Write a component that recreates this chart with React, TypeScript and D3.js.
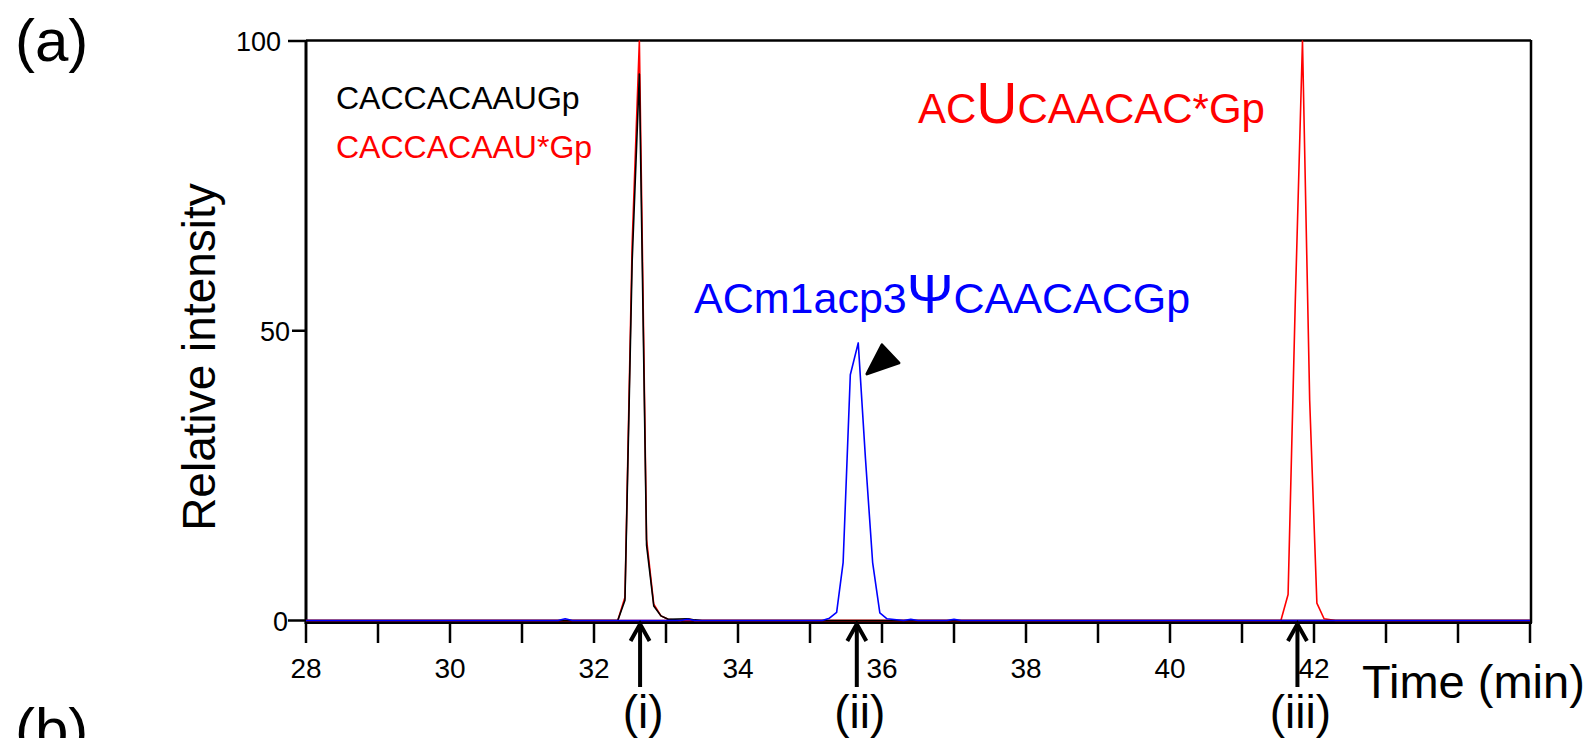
import * as d3 from 'd3';
import React, { useRef, useEffect } from 'react';

// retention time (min) / relative intensity
const blackTime = [28, 32.33, 32.43, 32.53, 32.63, 32.73, 32.83, 32.93, 33.03, 33.3, 33.4, 33.5, 45];
const blackValue = [0, 0, 3.5, 62, 94.3, 13, 2.5, 0.8, 0.2, 0.3, 0.1, 0, 0];

const redTime = [28, 32.33, 32.43, 32.53, 32.63, 32.73, 32.83, 32.93, 33.03, 33.2, 33.3, 33.4, 45];
const redValue = [0, 0, 4, 65, 100, 14, 2.8, 0.8, 0.2, 0, 0.3, 0, 0];

const red2Time = [28, 41.54, 41.64, 41.74, 41.84, 41.94, 42.04, 42.14, 42.3, 45];
const red2Value = [0, 0, 4.5, 55, 100, 38, 3, 0.3, 0, 0];

const blueTime = [28, 31.5, 31.6, 31.7, 33.2, 33.3, 33.4, 35.17, 35.27, 35.37, 35.46, 35.56, 35.67, 35.77, 35.87, 35.97, 36.07, 36.3, 36.4, 36.5, 36.9, 37.0, 37.1, 45];
const blueValue = [0, 0, 0.3, 0, 0, 0.2, 0, 0, 0.4, 1.4, 10, 42.4, 47.9, 28, 10, 1.3, 0.3, 0, 0.2, 0, 0, 0.2, 0, 0];

const xTicks = d3.range(28, 46);
const xTickLabels = [28, 30, 32, 34, 36, 38, 40, 42];
const yTickLabels = [0, 50, 100];

const arrowTimes = [32.64, 35.65, 41.77];
const arrowLabels = ['(i)', '(ii)', '(iii)'];

const FONT = 'Liberation Sans, Arial, Helvetica, sans-serif';

function App() {
  const ref = useRef<SVGSVGElement>(null);

  useEffect(() => {
    document.body.style.margin = '0';
    draw();
  }, []);

  const draw = () => {
    const svg = d3.select(ref.current);
    svg.selectAll('*').remove();

    const x = d3.scaleLinear().domain([28, 45]).range([306, 1530]);
    const y = d3.scaleLinear().domain([0, 100]).range([620.5, 41]);

    const g = svg.append('g');

    // frame
    g.append('line').attr('x1', 306).attr('x2', 1531).attr('y1', 40.5).attr('y2', 40.5)
      .attr('stroke', '#000').attr('stroke-width', 2.5);
    g.append('line').attr('x1', 1531).attr('x2', 1531).attr('y1', 40).attr('y2', 623)
      .attr('stroke', '#000').attr('stroke-width', 2.5);
    g.append('line').attr('x1', 306).attr('x2', 306).attr('y1', 40).attr('y2', 624)
      .attr('stroke', '#000').attr('stroke-width', 3);
    g.append('line').attr('x1', 305).attr('x2', 1532).attr('y1', 622.5).attr('y2', 622.5)
      .attr('stroke', '#000').attr('stroke-width', 3);

    // x ticks
    g.selectAll('.xt').data(xTicks).enter().append('line')
      .attr('x1', (d) => x(d)).attr('x2', (d) => x(d))
      .attr('y1', 622).attr('y2', 643)
      .attr('stroke', '#000').attr('stroke-width', 2.5);
    g.selectAll('.xl').data(xTickLabels).enter().append('text')
      .attr('x', (d) => x(d)).attr('y', 678)
      .attr('text-anchor', 'middle').attr('font-family', FONT).attr('font-size', 28)
      .text((d) => d);

    // y ticks
    g.selectAll('.yt').data(yTickLabels).enter().append('line')
      .attr('x1', (d) => (d === 50 ? 292 : 288)).attr('x2', 306)
      .attr('y1', (d) => y(d)).attr('y2', (d) => y(d))
      .attr('stroke', '#000').attr('stroke-width', 2.5);
    g.selectAll('.yl').data(yTickLabels).enter().append('text')
      .attr('x', (d) => (d === 100 ? 281 : d === 50 ? 290 : 288)).attr('y', (d) => y(d) + 10)
      .attr('text-anchor', 'end').attr('font-family', FONT).attr('font-size', 27)
      .text((d) => d);

    // axis titles
    g.append('text').attr('transform', 'translate(215,357) rotate(-90)')
      .attr('text-anchor', 'middle').attr('font-family', FONT).attr('font-size', 46)
      .text('Relative intensity');
    g.append('text').attr('x', 1362).attr('y', 698)
      .attr('font-family', FONT).attr('font-size', 47).text('Time (min)');

    // panel letters ((b) is cut by the bottom edge, as in the figure)
    g.append('text').attr('x', 15).attr('y', 61).attr('font-family', FONT).attr('font-size', 60).text('(a)');
    g.append('text').attr('x', 15).attr('y', 750).attr('font-family', FONT).attr('font-size', 60).text('(b)');

    // traces
    const line = d3.line<[number, number]>().x((d) => x(d[0])).y((d) => y(d[1]));
    const traces = [
      { t: redTime, v: redValue, c: '#ff0000' },
      { t: red2Time, v: red2Value, c: '#ff0000' },
      { t: blackTime, v: blackValue, c: '#000000' },
      { t: blueTime, v: blueValue, c: '#0000ff' },
    ];
    traces.forEach((s) => {
      const pts = s.t.map((t, i) => [t, s.v[i]] as [number, number]);
      g.append('path').datum(pts).attr('d', line)
        .attr('fill', 'none').attr('stroke', s.c).attr('stroke-width', 1.6)
        .attr('stroke-linejoin', 'round');
    });

    // legend / peak labels
    g.append('text').attr('x', 336).attr('y', 109).attr('font-family', FONT).attr('font-size', 32)
      .attr('fill', '#000').text('CACCACAAUGp');
    g.append('text').attr('x', 336).attr('y', 158).attr('font-family', FONT).attr('font-size', 32)
      .attr('fill', '#ff0000').text('CACCACAAU*Gp');

    const redLab = g.append('text').attr('x', 918).attr('y', 123).attr('font-family', FONT)
      .attr('font-size', 42).attr('fill', '#ff0000');
    redLab.append('tspan').text('AC');
    redLab.append('tspan').attr('font-size', 57).text('U');
    redLab.append('tspan').text('CAACAC*Gp');

    const blueLab = g.append('text').attr('x', 694).attr('y', 313).attr('font-family', FONT)
      .attr('font-size', 43).attr('fill', '#0000ff');
    blueLab.append('tspan').text('ACm1acp3');
    blueLab.append('tspan').attr('font-size', 56).text('\u03A8');
    blueLab.append('tspan').text('CAACACGp');

    // black arrowhead next to blue peak
    const px = x(35.68), py = y(47.9);
    g.append('polygon')
      .attr('points', [[px + 8, py + 31], [px + 23, py + 2], [px + 40, py + 20]].map((p) => p.join(',')).join(' '))
      .attr('fill', '#000').attr('stroke', '#000').attr('stroke-width', 3).attr('stroke-linejoin', 'round');

    // arrows below axis
    arrowTimes.forEach((t, i) => {
      const ax = x(t);
      g.append('line').attr('x1', ax).attr('x2', ax).attr('y1', 687).attr('y2', 625)
        .attr('stroke', '#000').attr('stroke-width', 4);
      g.append('polyline')
        .attr('points', `${ax - 9.5},${641} ${ax},${624} ${ax + 9.5},${641}`)
        .attr('fill', 'none').attr('stroke', '#000').attr('stroke-width', 4);
      g.append('text').attr('x', ax + 3).attr('y', 728)
        .attr('text-anchor', 'middle').attr('font-family', FONT).attr('font-size', 46)
        .text(arrowLabels[i]);
    });
  };

  return (
    <div className="chart">
      <svg ref={ref} width={1594} height={738} style={{ display: 'block', background: '#fff' }}></svg>
    </div>
  );
}

export default App;
